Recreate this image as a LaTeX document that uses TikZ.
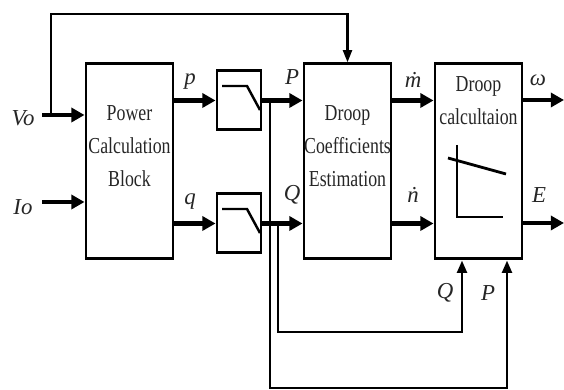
\documentclass[tikz,border=0pt]{standalone}
\usepackage{fontspec}
\setmainfont{Liberation Serif}
\newfontfamily\narrowfont[FakeStretch=0.78]{Liberation Serif}
\usetikzlibrary{arrows.meta,positioning}
\tikzset{
  blk/.style={draw,line width=1.7pt,minimum width=17.4mm,minimum height=39mm,inner sep=0pt},
  flt/.style={draw,line width=1.7pt,minimum width=8.8mm,minimum height=11.8mm,inner sep=0pt},
  txt/.style={font=\narrowfont\fontsize{13}{18.7}\selectfont,align=center,text=black!85},
  sig/.style={font=\itshape\fontsize{13}{15}\selectfont,inner sep=1pt,text=black!85},
  flow/.style={line width=2.6pt,-{Triangle[length=7.5pt,width=8pt]}},
  fb/.style={line width=1.6pt,-{Triangle[length=7pt,width=5.5pt]}},
  % filter pictogram
  pics/lowpass/.style={code={
    \draw[line width=1.4pt] (-0.34,0.29) -- (0.16,0.29) -- (0.42,-0.19);
  }},
}
\begin{document}
\begin{tikzpicture}
  \useasboundingbox (0,0) rectangle (11.28,7.8);
  % blocks
  \node[blk] (pcb) at (2.59,4.57) {};
  \node[blk] (dce) at (6.95,4.57) {};
  \node[blk] (dc) at (9.57,4.57) {};
  \node[flt] (f1) at (4.78,5.79) {};
  \node[flt] (f2) at (4.78,3.33) {};
  \pic at (f1.center) {lowpass};
  \pic at (f2.center) {lowpass};
  \node[txt] (pcbt) at (2.59,4.88) {Power\\Calculation\\Block};
  \node[txt] (dcet) at (6.95,4.88) {Droop\\Coefficients\\Estimation};
  \node[txt] (dct) at (9.57,5.78) {Droop\\calcultaion};
  % droop characteristic
  \draw[line width=1.6pt] (9.14,4.9) -- (9.14,3.46) -- (10.06,3.46);
  \draw[line width=1.6pt] (8.96,4.64) -- (10.12,4.32);
  % inputs and outputs
  \coordinate (vo) at (0.84,5.5);
  \coordinate (io) at (0.84,3.76);
  \coordinate (wo) at (11.28,5.8);
  \coordinate (eo) at (11.28,3.34);
  \draw[flow] (vo) -- (vo -| pcb.west);
  \draw[flow] (io) -- (io -| pcb.west);
  \draw[flow] (pcb.east |- f1) -- (f1.west);
  \draw[flow] (pcb.east |- f2) -- (f2.west);
  \draw[flow] (f1.east) -- (f1 -| dce.west);
  \draw[flow] (f2.east) -- (f2 -| dce.west);
  \draw[flow] (dce.east |- f1) -- (f1 -| dc.west);
  \draw[flow] (dce.east |- f2) -- (f2 -| dc.west);
  \draw[flow] (dc.east |- wo) -- (wo);
  \draw[flow] (dc.east |- eo) -- (eo);
  % feedback paths
  \draw[line width=1.5pt,-{Triangle[length=7pt,width=5pt]}] (1.02,5.5) -- (1.02,7.52) -| (dce.north);
  \draw[fb] (5.4,5.8) -- (5.4,0.04) -| (10.14,0 |- dc.south);
  \draw[fb] (5.56,3.34) -- (5.56,1.16) -| (9.24,0 |- dc.south);
  % signal names
  \node[sig] (lvo) at (0.46,5.44) {Vo};
  \node[sig] (lio) at (0.46,3.66) {Io};
  \node[sig] (lp) at (3.8,6.16) {p};
  \node[sig] (lq) at (3.8,3.76) {q};
  \node[sig] (lP) at (5.84,6.26) {P};
  \node[sig] (lQ) at (5.84,3.9) {Q};
  \node[sig] (lm) at (8.26,6.2) {\.m};
  \node[sig] (ln) at (8.26,3.9) {\.n};
  \node[sig] (lw) at (10.76,6.2) {ω};
  \node[sig] (le) at (10.78,3.9) {E};
  \node[sig] (lQb) at (8.9,1.94) {Q};
  \node[sig] (lPb) at (9.76,1.94) {P};
\end{tikzpicture}
\end{document}
